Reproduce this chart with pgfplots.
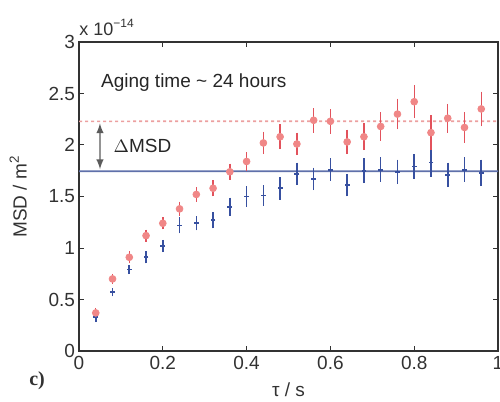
\documentclass[border=0pt]{standalone}
\usepackage{pgfplots}
\pgfplotsset{compat=1.18}
\usepackage{pgfplotstable}
\usepackage{fontspec}
\setmainfont{Liberation Sans}
\newfontfamily\serifc{Liberation Serif}
\definecolor{rbar}{RGB}{226,82,92}
\definecolor{rfill}{RGB}{240,135,135}
\definecolor{rline}{RGB}{236,160,160}
\definecolor{bbar}{RGB}{55,80,160}
\definecolor{bline}{RGB}{95,112,170}
\definecolor{axcol}{RGB}{50,50,50}

\pgfplotstableread{
x y e
0.04 0.37 0.02
0.08 0.70 0.02
0.12 0.91 0.03
0.16 1.12 0.03
0.20 1.24 0.03
0.24 1.38 0.04
0.28 1.52 0.04
0.32 1.58 0.05
0.36 1.74 0.05
0.40 1.84 0.06
0.44 2.02 0.08
0.48 2.08 0.09
0.52 2.01 0.08
0.56 2.24 0.09
0.60 2.23 0.09
0.64 2.03 0.09
0.68 2.08 0.10
0.72 2.18 0.11
0.76 2.30 0.12
0.80 2.42 0.13
0.84 2.12 0.14
0.88 2.26 0.11
0.92 2.17 0.12
0.96 2.35 0.14
}\redtab

\pgfplotstableread{
x y e
0.04 0.33 0.02
0.08 0.57 0.01
0.12 0.79 0.015
0.16 0.91 0.03
0.20 1.02 0.03
0.24 1.22 0.05
0.28 1.24 0.04
0.32 1.27 0.05
0.36 1.40 0.06
0.40 1.50 0.07
0.44 1.51 0.07
0.48 1.58 0.08
0.52 1.72 0.08
0.56 1.67 0.08
0.60 1.76 0.08
0.64 1.61 0.08
0.68 1.75 0.09
0.72 1.76 0.09
0.76 1.74 0.09
0.80 1.79 0.09
0.84 1.83 0.11
0.88 1.71 0.09
0.92 1.76 0.09
0.96 1.73 0.10
}\bluetab

\begin{document}
\begin{tikzpicture}
\begin{axis}[
  scale only axis,
  width=209.5pt, height=154.5pt,
  xmin=0, xmax=1, ymin=0, ymax=3,
  xtick={0,0.2,...,1}, ytick={0,0.5,...,3},
  xticklabels={0,0.2,0.4,0.6,0.8,1},
  yticklabels={0,0.5,1,1.5,2,2.5,3},
  tick align=inside,
  major tick length=2.5pt,
  tick style={axcol, line width=0.5pt},
  axis line style={axcol, line width=0.9pt},
  ticklabel style={font=\fontsize{9.5}{11}\selectfont, text=axcol},
  xticklabel style={yshift=1pt},
  yticklabel style={xshift=1.5pt},
  clip=false,
]
\addplot[color=rline, dash pattern=on 1.5pt off 1.5pt, line width=0.8pt, mark=none] coordinates {(0,2.23) (1,2.2306)};
\addplot[color=bline, line width=0.8pt, mark=none] coordinates {(0,1.745) (1,1.7456)};
\addplot[color=axcol!80, line width=0.7pt, <->, >=latex, mark=none] coordinates {(0.05,2.21) (0.0501,1.765)};

\addplot[color=bbar, only marks, mark=-, mark size=1.2pt,
  mark options={color=bbar, line width=0.8pt},
  error bars/.cd, y dir=both, y explicit,
  error bar style={color=bbar, line width=0.8pt},
  error mark options={color=bbar, mark size=1.5pt, line width=0.8pt}]
  table[x=x, y=y, y error=e] {\bluetab};

\addplot[color=rbar, only marks, mark=*, mark size=1.7pt,
  mark options={fill=rfill, draw=rfill},
  error bars/.cd, y dir=both, y explicit,
  error bar style={color=rbar, line width=0.7pt},
  error mark options={color=rbar, mark size=1.5pt, line width=0.7pt}]
  table[x=x, y=y, y error=e] {\redtab};

\node[anchor=west, font=\fontsize{9.5}{11}\selectfont, text=black!85] at (axis description cs:0.036,0.87) {Aging time \char`~\ 24 hours};
\node[anchor=west, font=\fontsize{9.5}{11}\selectfont, text=black!85] at (axis description cs:0.066,0.662) {$\Delta$MSD};
\node[anchor=west, font=\fontsize{9}{11}\selectfont, text=axcol, inner sep=0pt] at (axis description cs:0.0,1.048) {x 10\textsuperscript{−14}};
\node[rotate=90, font=\fontsize{9.5}{11}\selectfont, text=axcol] at (axis description cs:-0.145,0.5) {MSD / m\textsuperscript{2}};
\node[font=\fontsize{9.5}{11}\selectfont, text=axcol] at (axis description cs:0.50,-0.126) {τ / s};
\node[font=\serifc\bfseries\fontsize{10}{12}\selectfont, text=axcol] at (axis description cs:-0.10,-0.097) {c)};
\end{axis}
\pgfresetboundingbox
\path ([xshift=-39.5pt,yshift=-25pt]current axis.south west) rectangle ([xshift=1pt,yshift=21pt]current axis.north east);
\end{tikzpicture}
\end{document}
